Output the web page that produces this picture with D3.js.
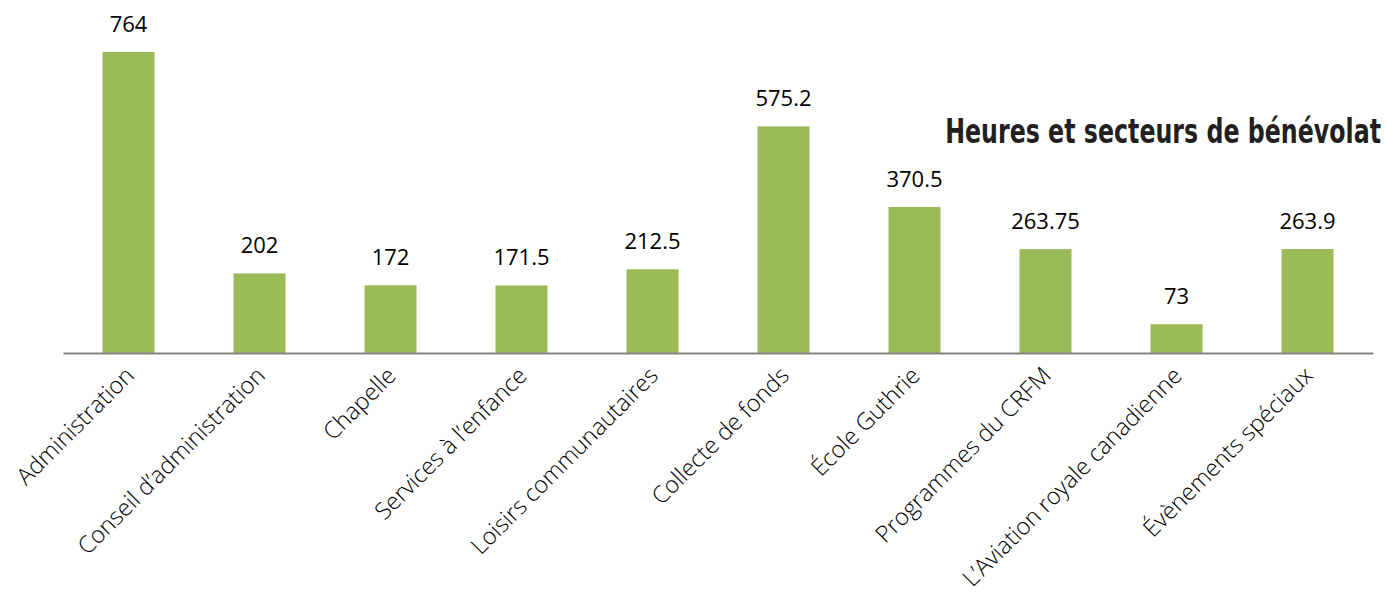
<!DOCTYPE html>
<html>
<head>
<meta charset="utf-8">
<script src="https://cdn.jsdelivr.net/npm/d3@7"></script>
<style>
  body { margin: 0; background: #fff; }
  svg { display: block; }
</style>
</head>
<body>
<script>
//
// DATA
//
const categories = [
    'Administration', 'Conseil d\u2019administration', 'Chapelle', 'Services à l\u2019enfance',
    'Loisirs communautaires', 'Collecte de fonds', 'École Guthrie', 'Programmes du CRFM',
    'L\u2019Aviation royale canadienne', 'Évènements spéciaux'
]
const hours = [764, 202, 172, 171.5, 212.5, 575.2, 370.5, 263.75, 73, 263.9]
const valueLabels = ['764', '202', '172', '171.5', '212.5', '575.2', '370.5', '263.75', '73', '263.9']
const title = 'Heures et secteurs de bénévolat'

//
// GLOBALS
//
const width = 1386
const height = 595
const baseY = 353
const topY = 52

const svg = d3.select('body').append('svg').attr('width', width).attr('height', height)

// equal gaps: outer padding is half the inner one
const x = d3.scaleBand().domain(categories).range([63, 1373]).paddingInner(0.603).paddingOuter(0.3015)
const y = d3.scaleLinear().domain([0, 764]).range([baseY, topY])

// bars
svg.append('g')
    .selectAll('rect')
    .data(hours)
    .join('rect')
    .attr('x', (d, i) => x(categories[i]))
    .attr('y', d => y(d))
    .attr('width', x.bandwidth())
    .attr('height', d => baseY - y(d))
    .attr('fill', '#9bbb59')

// value labels above bars
svg.append('g')
    .selectAll('text')
    .data(hours)
    .join('text')
    .attr('x', (d, i) => x(categories[i]) + x.bandwidth() / 2)
    .attr('y', d => y(d) - 20)
    .attr('text-anchor', 'middle')
    .style('font-family', 'Open Sans, sans-serif')
    .style('font-size', '22px')
    .attr('fill', '#000')
    .text((d, i) => valueLabels[i])

// x axis, rotated category names
const axis = svg.append('g')
    .attr('transform', `translate(0,${baseY})`)
    .call(d3.axisBottom(x).tickSize(0).tickPadding(0))
axis.select('.domain').attr('stroke', '#868686').attr('stroke-width', 2)
axis.selectAll('.tick text')
    .attr('text-anchor', 'end')
    .attr('y', 0)
    .attr('dy', 0)
    .attr('transform', 'translate(7,24) rotate(-45)')
    .attr('fill', '#000')
    .style('font-family', 'Open Sans, sans-serif')
    .style('font-weight', 300)
    .style('font-size', '23.5px')

// title, squeezed horizontally to mimic a condensed face
const titleG = svg.append('g')
const titleText = titleG.append('text')
    .attr('x', 0)
    .attr('y', 0)
    .attr('text-anchor', 'end')
    .style('font-family', '"DejaVu Sans", sans-serif')
    .style('font-stretch', 'condensed')
    .style('font-weight', 'bold')
    .style('font-size', '33px')
    .attr('fill', '#231f20')
    .text(title)
const titleW = titleText.node().getComputedTextLength()
titleG.attr('transform', `translate(1381,143) scale(${436 / titleW},1)`)
</script>
</body>
</html>
